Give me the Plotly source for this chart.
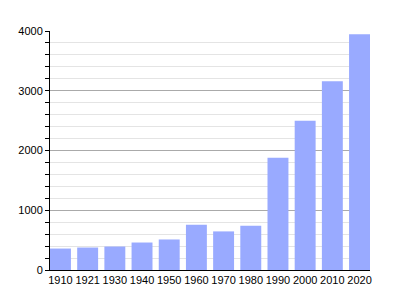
import plotly.graph_objects as go

years = ["1910", "1921", "1930", "1940", "1950", "1960", "1970", "1980", "1990", "2000", "2010", "2020"]
population = [359, 376, 393, 460, 511, 759, 646, 742, 1877, 2496, 3159, 3944]
y_ticks = [0, 1000, 2000, 3000, 4000]

bargap = 0.23
half = (1 - bargap) / 2

fig = go.Figure(go.Bar(x=years, y=population, marker=dict(color="#99aaff", line=dict(width=0))))

fig.update_layout(
    width=400, height=300,
    margin=dict(l=50, r=30, t=31, b=30),
    paper_bgcolor="white", plot_bgcolor="white",
    bargap=bargap,
    showlegend=False,
    font=dict(family="Liberation Sans, Arial, sans-serif", size=11, color="black"),
)
fig.update_xaxes(
    type="category", range=[-half, len(years) - 1 + half],
    showgrid=False, showline=True, linecolor="black", linewidth=1,
    ticks="", tickfont=dict(size=11), ticklabelstandoff=0,
)
fig.update_yaxes(
    range=[0, 4000], tickvals=y_ticks, showgrid=True, gridcolor="#aaaaaa", gridwidth=1,
    showline=True, linecolor="black", linewidth=1, ticks="outside", ticklen=4, tickcolor="black",
    zeroline=False,
    minor=dict(dtick=200, showgrid=True, gridcolor="#e4e4e4", ticks="outside", ticklen=4, tickcolor="black"),
    tickfont=dict(size=11),
)

fig.write_html("out.html")
